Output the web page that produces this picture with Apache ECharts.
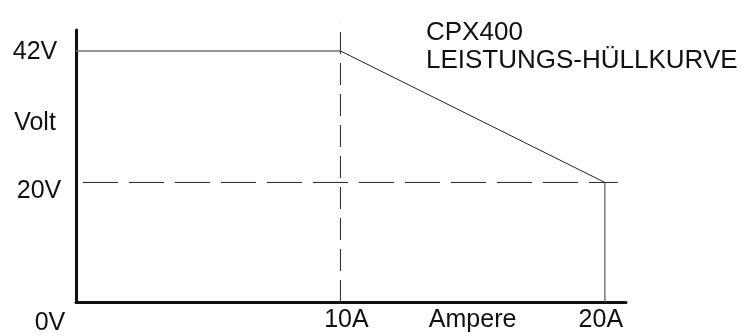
<!DOCTYPE html>
<html><head><meta charset="utf-8">
<script src="https://cdn.jsdelivr.net/npm/echarts@6/dist/echarts.min.js"></script>
<style>html,body{margin:0;padding:0;background:#fff}#c{width:752px;height:336px}</style>
</head><body><div id="c"></div>
<script>
// ---- data ----
const titleLines = ['CPX400', 'LEISTUNGS-HÜLLKURVE'];
const envelopeCurrent = [0, 10, 20];      // A
const envelopeVoltage = [42, 42, 20];     // V
const xTickValues = [0, 10, 15, 20];
const xTickLabels = ['0V', '10A', 'Ampere', '20A'];
const yTickValues = [20, 30, 42];
const yTickLabels = ['20V', 'Volt', '42V'];
const refVoltage = 20;
const refVoltageSpan = [0.26, 20.49];
const refCurrent = 10;
const refCurrentSpan = [0, 46.7];
const xAxisMax = 20.8;
const yAxisMax = 45.5;

const FONT = 'Liberation Sans';
const FS = 25;
const chart = echarts.init(document.getElementById('c'), null, {renderer: 'canvas'});

const flat = [[envelopeCurrent[0], envelopeVoltage[0]], [envelopeCurrent[1], envelopeVoltage[1]]];
const slope = [[envelopeCurrent[1], envelopeVoltage[1]], [envelopeCurrent[2], envelopeVoltage[2]]];
const drop = [[envelopeCurrent[2], envelopeVoltage[2]], [envelopeCurrent[2], 0]];
const hDash = [[refVoltageSpan[0], refVoltage], [refVoltageSpan[1], refVoltage]];
const vDash = [[refCurrent, refCurrentSpan[0]], [refCurrent, refCurrentSpan[1]]];

const xKeys = ['o', 'a', 'n', 'b'];
const yKeys = ['t', 'v', 'f'];
const base = {fontFamily: FONT, fontSize: FS, color: '#111'};

chart.setOption({
  backgroundColor: '#fff',
  animation: false,
  title: {
    text: titleLines.join('\n'),
    left: 426, top: 19, padding: 0,
    textStyle: {fontFamily: FONT, fontSize: 26, lineHeight: 28, fontWeight: 'normal', color: '#111'}
  },
  grid: {left: 76, right: 126, top: 30, bottom: 34, containLabel: false, outerBoundsMode: 'none'},
  xAxis: {
    type: 'value', min: 0, max: xAxisMax,
    splitLine: {show: false},
    axisTick: {show: false},
    axisLine: {show: true, lineStyle: {color: '#111', width: 3}},
    axisLabel: {
      customValues: xTickValues,
      margin: 6,
      color: '#111', fontFamily: FONT, fontSize: FS,
      formatter: (v) => { const i = xTickValues.indexOf(v); return '{' + xKeys[i] + '|' + xTickLabels[i] + '}'; },
      rich: {
        o: Object.assign({padding: [3, 52, 0, 0]}, base),
        a: Object.assign({padding: [0, 0, 0, 12]}, base),
        n: base,
        b: Object.assign({padding: [0, 8, 0, 0]}, base)
      }
    }
  },
  yAxis: {
    type: 'value', min: 0, max: yAxisMax,
    splitLine: {show: false},
    axisTick: {show: false},
    axisLine: {show: true, lineStyle: {color: '#111', width: 3}},
    axisLabel: {
      customValues: yTickValues,
      margin: 41, align: 'center',
      color: '#111', fontFamily: FONT, fontSize: FS,
      formatter: (v) => { const i = yTickValues.indexOf(v); return '{' + yKeys[i] + '|' + yTickLabels[i] + '}'; },
      rich: {
        t: Object.assign({padding: [17, 0, 0, 8]}, base),
        v: base,
        f: Object.assign({padding: [2, 0, 0, 0]}, base)
      }
    }
  },
  series: [
    {type: 'line', data: hDash, symbol: 'none', z: 1, clip: false,
     lineStyle: {color: '#222', width: 1, type: [35, 11]}},
    {type: 'line', data: vDash, symbol: 'none', z: 1, clip: false,
     lineStyle: {color: '#222', width: 1, type: [22, 9]}},
    {type: 'line', data: flat, symbol: 'none', z: 3,
     lineStyle: {color: '#707070', width: 1.5}},
    {type: 'line', data: slope, symbol: 'none', z: 3,
     lineStyle: {color: '#222', width: 1}},
    {type: 'line', data: drop, symbol: 'none', z: 3,
     lineStyle: {color: '#555', width: 1.2}}
  ]
});
</script></body></html>
